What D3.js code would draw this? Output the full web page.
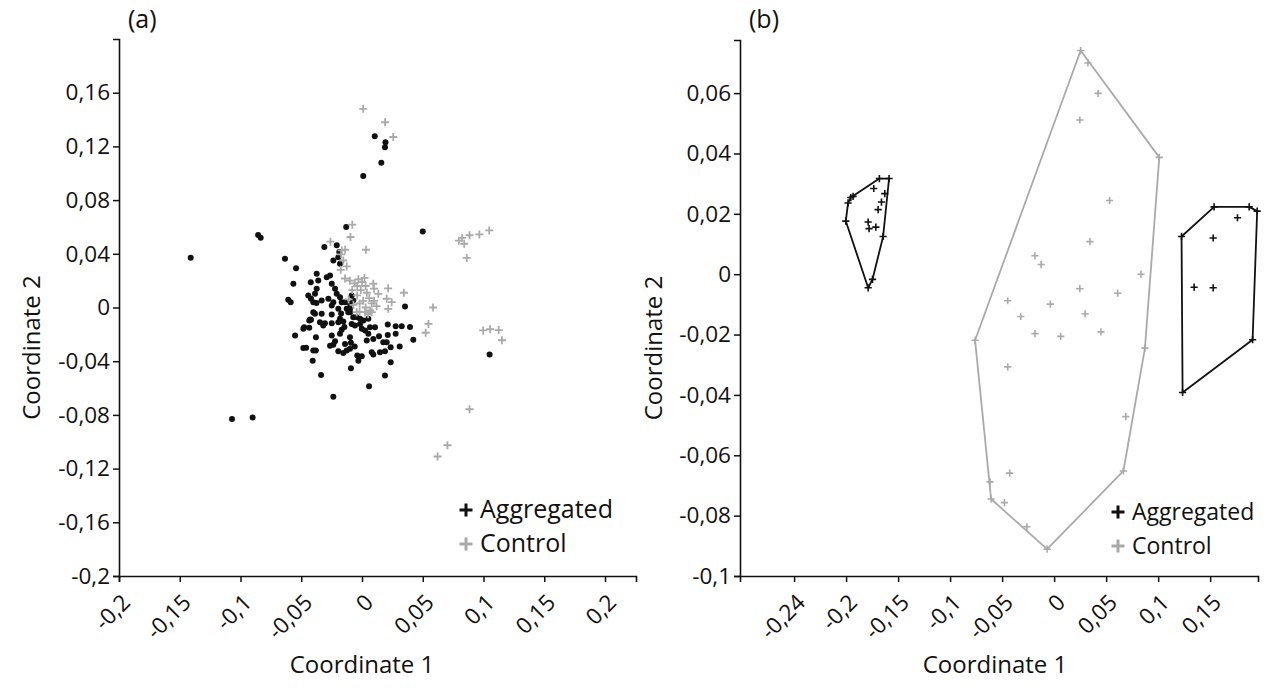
<!DOCTYPE html>
<html>
<head>
<meta charset="utf-8">
<script src="https://cdn.jsdelivr.net/npm/d3@7"></script>
<style>
    body { margin: 0; background: #fff; }
    svg { display: block; font-family: 'Open Sans', sans-serif; }
</style>
</head>
<body>
<svg id="chart"></svg>
<script>
// panel (a): aggregated (black dots) and control (grey crosses)
const aggA = [
    [-0.141, 0.037], [-0.0855, 0.054], [-0.0834, 0.052], [-0.107, -0.083], [-0.09, -0.082],
    [0.0105, 0.1276], [0.0193, 0.123], [0.0189, 0.1194], [0.0159, 0.1078], [0.001, 0.098],
    [0.05, 0.0567], [0.105, -0.035], [-0.013, 0.06],
    [-0.0634, 0.0363], [-0.0543, 0.0293], [-0.0565, 0.0177], [-0.0607, 0.0057], [-0.0587, 0.004],
    [-0.031, 0.045], [-0.0208, 0.0463], [-0.0187, 0.0413], [-0.0195, 0.0375], [-0.0236, 0.035],
    [-0.0181, 0.0326], [-0.0373, 0.0251], [-0.029, 0.0226], [-0.0263, 0.0239], [-0.0422, 0.0189],
    [-0.036, 0.0201], [-0.0249, 0.0177], [-0.0373, 0.014], [-0.0387, 0.0102], [-0.0442, 0.009],
    [-0.0222, 0.014], [-0.0208, 0.0102], [-0.0181, 0.0077], [-0.0167, 0.004], [-0.0332, 0.0052],
    [-0.0401, 0.004], [-0.0277, 0.0065], [-0.0236, 0.004], [-0.0401, -0.0035], [-0.0387, -0.0047],
    [-0.0332, -0.0047], [-0.0126, -0.001], [-0.0113, -0.0035], [-0.0195, -0.001], [-0.0249, 0.0015],
    [-0.014, 0.004], [-0.0099, 0.0028], [-0.0428, -0.009], [-0.0181, -0.0084],
    [0.0354, 0.0007], [-0.0085, 0.009], [-0.0072, 0.0052], [-0.0099, -0.001], [-0.0016, -0.0084],
    [0.0052, -0.0084],
    [-0.0551, -0.0209], [-0.0483, -0.0301], [-0.0401, -0.0321], [-0.0406, -0.0396], [-0.0337, -0.0502],
    [-0.0236, -0.0664], [-0.0091, -0.0453], [-0.0483, -0.0159], [-0.0434, -0.0151], [-0.0434, -0.0097],
    [-0.0379, -0.0222], [-0.0249, -0.0052], [-0.0346, -0.011], [-0.0319, -0.0134], [-0.0305, -0.0117],
    [-0.0249, -0.0117], [-0.0195, -0.011], [-0.0154, -0.0104], [-0.0249, -0.0209], [-0.0181, -0.0196],
    [-0.0167, -0.0166], [-0.0099, -0.0222], [-0.0222, -0.0251], [-0.0263, -0.0284], [-0.0236, -0.0278],
    [-0.014, -0.0271], [-0.0091, -0.0263], [-0.0195, -0.0326], [-0.0154, -0.0338], [-0.0126, -0.0321],
    [-0.0099, -0.0308], [-0.0039, -0.0358], [-0.003, -0.0396], [-0.0099, -0.0035], [-0.0072, -0.0072],
    [-0.0085, -0.0122],
    [0.0058, -0.0587], [0.0189, -0.0507], [0.0236, -0.0408], [0.0422, -0.0241], [0.0212, -0.0127],
    [0.0277, -0.014], [0.0327, -0.014], [0.0212, -0.0204], [0.0277, -0.0196], [0.0175, -0.0259],
    [0.0203, -0.0259], [0.0236, -0.0296], [0.0148, -0.0334], [0.0189, -0.0326], [0.008, -0.0334],
    [0.0093, -0.0351], [-0.0002, -0.0363], [-0.0044, -0.0072], [-0.0016, -0.0122], [0.0011, -0.0097],
    [0.0066, -0.0147], [0.0107, -0.0147], [0.0025, -0.0172], [0.0052, -0.0196], [0.0093, -0.0234],
    [0.0039, -0.0246], [-0.0002, -0.0159], [-0.0058, -0.0134], [0.0395, -0.0145], [0.031, -0.029],
    [-0.042, 0.0066], [-0.0375, 0.0033], [-0.0476, -0.0148], [-0.042, -0.0092], [-0.046, -0.030],
    [-0.038, -0.032], [-0.0172, -0.0045], [-0.0145, -0.0145], [-0.006, -0.029], [0.014, -0.0215]
]

const ctrlA = [
    [0.001, 0.148], [0.019, 0.138], [0.0257, 0.127], [-0.008, 0.0617], [-0.0095, 0.0525],
    [0.0033, 0.043], [-0.026, 0.049],
    [0.0797, 0.0498], [0.0824, 0.0518], [0.0841, 0.0475], [0.0885, 0.0538], [0.0966, 0.0544],
    [0.1047, 0.0574], [0.0862, 0.0369],
    [0.0585, 0], [0.0547, -0.0122], [0.0524, -0.0188],
    [0.0997, -0.0171], [0.1054, -0.0162], [0.1125, -0.0168], [0.1152, -0.0244],
    [0.0885, -0.0758], [0.0703, -0.1026], [0.0622, -0.111],
    [0.0345, 0.011], [0.0215, 0.0143], [0.0244, 0.004], [0.0203, 0.0065], [0.0216, -0.001],
    [0.0134, 0.0102], [0.0066, -0.0022], [0.0093, 0.0177], [0.0099, 0.014],
    [-0.0167, 0.0425], [-0.0154, 0.035], [-0.0126, 0.0306], [-0.0175, 0.0281], [-0.014, 0.0216],
    [-0.0139, 0.043], [-0.0172, 0.0396],
    [-0.01, 0.02], [-0.006, 0.018], [-0.003, 0.021], [-0.008, 0.013], [-0.004, 0.009],
    [-0.011, 0.006], [-0.002, 0.003], [-0.007, 0.002], [0, 0.019], [0.003, 0.016],
    [-0.001, 0.013], [0.004, 0.011], [0.006, 0.007], [0.001, 0.005], [0.008, 0.003],
    [0.003, 0], [-0.002, -0.003], [0.005, -0.005], [0.01, 0.005], [0.012, 0.001],
    [-0.004, 0.016], [0.002, 0.022], [-0.0044, -0.0035], [0.0025, -0.0035], [0.008, -0.0035]
]

// panel (b): two aggregated groups and one control group, each with its hull
const aggB1 = [
    [-0.168, 0.0317], [-0.1587, 0.0317], [-0.1734, 0.0284], [-0.1628, 0.0267], [-0.166, 0.0239],
    [-0.1692, 0.0214], [-0.1933, 0.0258], [-0.1955, 0.0254], [-0.1981, 0.0236], [-0.2003, 0.0176],
    [-0.1788, 0.0173], [-0.1779, 0.0151], [-0.1714, 0.0156], [-0.1644, 0.0125], [-0.1746, -0.0017],
    [-0.1788, -0.0045]
]
const aggB2 = [
    [0.1538, 0.0223], [0.1875, 0.0223], [0.1952, 0.0209], [0.1763, 0.0187], [0.1225, 0.0125],
    [0.1529, 0.012], [0.1346, -0.0043], [0.1529, -0.0045], [0.1908, -0.0217], [0.1235, -0.0392]
]
const ctrlB = [
    [0.0255, 0.0741], [0.0325, 0.07], [0.0423, 0.0599], [0.0247, 0.0511], [0.1011, 0.0387],
    [0.0533, 0.0244], [0.0344, 0.0108], [-0.0184, 0.0061], [-0.0125, 0.0032], [0.0835, 0],
    [0.0247, -0.0048], [0.0611, -0.0063], [-0.0446, -0.0088], [-0.0036, -0.0099], [-0.0321, -0.014],
    [0.0298, -0.0131], [-0.0184, -0.0197], [0.0063, -0.0206], [0.045, -0.0191], [-0.076, -0.0219],
    [0.0873, -0.0245], [-0.0446, -0.0307], [0.0689, -0.0472], [0.0666, -0.0652], [-0.0427, -0.0659],
    [-0.0616, -0.0688], [-0.0606, -0.0745], [-0.0478, -0.0757], [-0.0262, -0.0837], [-0.0067, -0.0911]
]

const xTicksA = [-0.2, -0.15, -0.1, -0.05, 0, 0.05, 0.1, 0.15, 0.2]
const yTicksA = [-0.2, -0.16, -0.12, -0.08, -0.04, 0, 0.04, 0.08, 0.12, 0.16]
const xTicksB = [-0.25, -0.2, -0.15, -0.1, -0.05, 0, 0.05, 0.1, 0.15]
const xLabelsB = ['-0,24', '-0,2', '-0,15', '-0,1', '-0,05', '0', '0,05', '0,1', '0,15']
const yTicksB = [-0.1, -0.08, -0.06, -0.04, -0.02, 0, 0.02, 0.04, 0.06]
const legendNames = ['Aggregated', 'Control']

const black = '#111'
const grey = '#aaa'
const width = 1269
const height = 688

const svg = d3.select('#chart').attr('width', width).attr('height', height)

const fmt = (d) => String(+d.toFixed(3)).replace('.', ',')
const plus = (s) => `M${-s},0H${s}M0,${-s}V${s}`

function panel(p) {
    const x = d3.scaleLinear().domain(p.xDomain).range([p.left, p.right])
    const y = d3.scaleLinear().domain(p.yDomain).range([p.bottom, p.top])

    const g = svg.append('g')

    const xAxis = g.append('g')
        .attr('transform', `translate(0,${p.bottom})`)
        .call(d3.axisBottom(x).tickValues(p.xTicks).tickSizeOuter(0).tickSize(6)
            .tickFormat((d, i) => p.xLabels ? p.xLabels[i] : fmt(d)))
    xAxis.selectAll('text')
        .attr('x', 0).attr('y', 0).attr('dy', 0)
        .attr('text-anchor', 'end')
        .attr('transform', 'translate(12,28) rotate(-45)')

    g.append('g')
        .attr('transform', `translate(${p.left},0)`)
        .call(d3.axisLeft(y).tickValues(p.yTicks).tickSizeOuter(0).tickSize(6).tickPadding(3)
            .tickFormat(fmt))

    g.selectAll('.domain').attr('stroke', black).attr('stroke-width', 1.6)
    g.selectAll('.tick line').attr('stroke', black).attr('stroke-width', 1.5)
    g.selectAll('.tick text').attr('fill', black).style('font-size', '22.5px').style('font-family', "'Open Sans', sans-serif")

    g.append('text')
        .attr('x', p.titleX)
        .attr('y', 673)
        .attr('text-anchor', 'middle')
        .style('font-size', '24px')
        .attr('fill', black)
        .text('Coordinate 1')

    g.append('text')
        .attr('transform', `translate(${p.yTitleX},${(p.top + p.bottom) / 2 + 40}) rotate(-90)`)
        .attr('text-anchor', 'middle')
        .style('font-size', '24px')
        .attr('fill', black)
        .text('Coordinate 2')

    g.append('text')
        .attr('x', p.left + 9)
        .attr('y', 28)
        .style('font-size', '25px')
        .attr('fill', black)
        .text(p.label)

    // legend
    const lg = g.append('g').attr('transform', `translate(${p.legendX},${p.legendY})`)
    lg.selectAll('path')
        .data(legendNames)
        .enter()
        .append('path')
        .attr('d', plus(6.5))
        .attr('transform', (d, i) => `translate(0,${i * 34})`)
        .attr('stroke', (d, i) => i === 0 ? black : grey)
        .attr('stroke-width', 3)
        .attr('fill', 'none')
    lg.selectAll('text')
        .data(legendNames)
        .enter()
        .append('text')
        .attr('x', 14)
        .attr('y', (d, i) => i * 34 + 8)
        .style('font-size', p.legendSize)
        .attr('fill', black)
        .text((d) => d)

    return { g, x, y }
}

// (a)
const a = panel({
    xDomain: [-0.2, 0.2255], yDomain: [-0.2, 0.2],
    left: 119, right: 636, top: 39, bottom: 576,
    xTicks: xTicksA, yTicks: yTicksA, titleX: 362,
    yTitleX: 40, label: '(a)', legendX: 466, legendY: 510, legendSize: '25px'
})

a.g.append('g')
    .selectAll('circle')
    .data(aggA)
    .enter()
    .append('circle')
    .attr('cx', (d) => a.x(d[0]))
    .attr('cy', (d) => a.y(d[1]))
    .attr('r', 3)
    .attr('fill', black)

a.g.append('g')
    .selectAll('path')
    .data(ctrlA)
    .enter()
    .append('path')
    .attr('d', plus(4))
    .attr('transform', (d) => `translate(${a.x(d[0])},${a.y(d[1])})`)
    .attr('stroke', grey)
    .attr('stroke-width', 1.8)

// (b)
const b = panel({
    xDomain: [-0.302, 0.196], yDomain: [-0.1, 0.0776],
    left: 740, right: 1258, top: 40, bottom: 576,
    xTicks: xTicksB, xLabels: xLabelsB, yTicks: yTicksB, titleX: 995,
    yTitleX: 662, label: '(b)', legendX: 1118, legendY: 512, legendSize: '23px'
})

const groupsB = [
    { pts: ctrlB, color: grey },
    { pts: aggB1, color: black },
    { pts: aggB2, color: black }
]

groupsB.forEach((grp) => {
    const px = grp.pts.map((d) => [b.x(d[0]), b.y(d[1])])
    const hull = d3.polygonHull(px)

    b.g.append('path')
        .datum(hull)
        .attr('d', (h) => 'M' + h.join('L') + 'Z')
        .attr('fill', 'none')
        .attr('stroke', grp.color)
        .attr('stroke-width', 1.8)
        .attr('stroke-linejoin', 'round')

    b.g.append('g')
        .selectAll('path')
        .data(px)
        .enter()
        .append('path')
        .attr('d', plus(3.6))
        .attr('transform', (d) => `translate(${d[0]},${d[1]})`)
        .attr('stroke', grp.color)
        .attr('stroke-width', 1.6)
})
</script>
</body>
</html>
